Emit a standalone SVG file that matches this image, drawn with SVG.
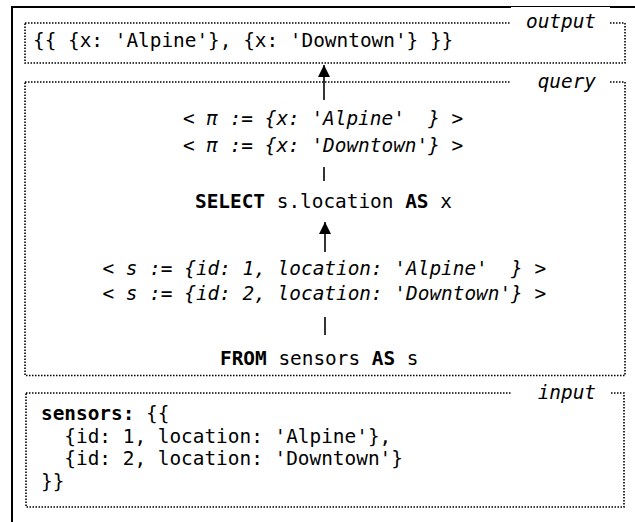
<svg xmlns="http://www.w3.org/2000/svg" width="635" height="522" viewBox="0 0 635 522">
<style>
text{font-family:"DejaVu Sans Mono","Liberation Mono",monospace;font-size:19.4px;fill:#000;white-space:pre}
.it{font-style:italic}
.b{font-weight:bold}
.lbl{font-style:italic;text-anchor:end}
.box{fill:none;stroke:#000;stroke-width:1.6;stroke-dasharray:1.5 1.5}
.bg{fill:#fff;stroke:none}
.cn{stroke:#000;stroke-width:1.6;fill:none}
</style>
<defs>
<marker id="ah" viewBox="0 0 12 12" markerWidth="12" markerHeight="12" refX="12" refY="6" orient="auto" markerUnits="userSpaceOnUse">
<path d="M0,0 L12,6 L0,12 Z" fill="#000"/>
</marker>
</defs>
<rect width="635" height="522" fill="#fff"/>
<g id="frame">
<line x1="12" y1="6" x2="12" y2="530" stroke="#000" stroke-width="2"/>
<line x1="11" y1="7" x2="640" y2="7" stroke="#000" stroke-width="2"/>
</g>
<g id="output">
<rect class="box" x="25" y="23" width="600" height="40"/>
<rect class="bg" x="511" y="7" width="99" height="30"/>
<text class="lbl" x="596" y="28">output</text>
<text x="33" y="47">{{ {x: 'Alpine'}, {x: 'Downtown'} }}</text>
</g>
<g id="query">
<rect class="box" x="25" y="82" width="600" height="293.5"/>
<rect class="bg" x="511" y="67" width="99" height="30"/>
<text class="lbl" x="596" y="88">query</text>
</g>
<g id="pi">
<text class="it" x="183" y="125">&lt; π := {x: 'Alpine'  } &gt;</text>
<text class="it" x="183" y="152">&lt; π := {x: 'Downtown'} &gt;</text>
</g>
<g id="select">
<text x="195" y="208"><tspan class="b">SELECT</tspan> s.location <tspan class="b">AS</tspan> x</text>
</g>
<g id="s">
<text class="it" x="102.5" y="275">&lt; s := {id: 1, location: 'Alpine'  } &gt;</text>
<text class="it" x="102.5" y="300">&lt; s := {id: 2, location: 'Downtown'} &gt;</text>
</g>
<g id="from">
<text x="220" y="365"><tspan class="b">FROM</tspan> sensors <tspan class="b">AS</tspan> s</text>
</g>
<g id="input">
<rect class="box" x="26" y="393" width="598" height="114"/>
<rect class="bg" x="511" y="378" width="99" height="30"/>
<text class="lbl" x="596" y="399">input</text>
<text x="41" y="420"><tspan class="b">sensors:</tspan> {{</text>
<text x="41" y="442.5">  {id: 1, location: 'Alpine'},</text>
<text x="41" y="465">  {id: 2, location: 'Downtown'}</text>
<text x="41" y="487.5">}}</text>
</g>
<g id="connectors">
<line class="cn" x1="324" y1="100" x2="324" y2="65" marker-end="url(#ah)"/>
<line class="cn" x1="324" y1="167" x2="324" y2="181"/>
<line class="cn" x1="325" y1="252" x2="325" y2="222" marker-end="url(#ah)"/>
<line class="cn" x1="325" y1="317" x2="325" y2="335"/>
</g>
</svg>
